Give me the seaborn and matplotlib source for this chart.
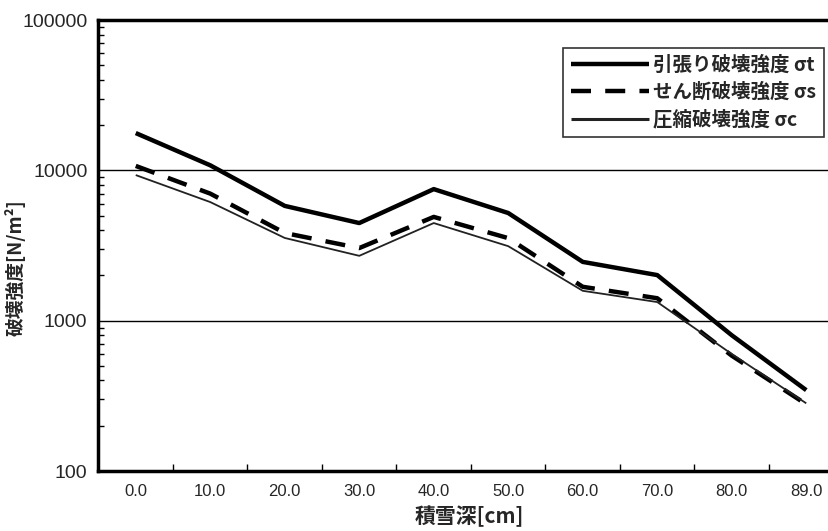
import matplotlib
matplotlib.use("Agg")
import matplotlib.pyplot as plt
import seaborn as sns
import pandas as pd
import numpy as np
from matplotlib.ticker import LogLocator, NullFormatter, FixedLocator

depth_labels = ["0.0", "10.0", "20.0", "30.0", "40.0", "50.0", "60.0", "70.0", "80.0", "89.0"]
tension = [17700, 10800, 5800, 4460, 7500, 5200, 2460, 2010, 800, 345]
shear = [10700, 7000, 3830, 3040, 4900, 3540, 1680, 1410, 585, 278]
compress = [9300, 6150, 3550, 2700, 4460, 3130, 1580, 1330, 600, 282]
series_names = ["引張り破壊強度 σt", "せん断破壊強度 σs", "圧縮破壊強度 σc"]

sns.set_theme(style="white")
plt.rcParams['font.family'] = ['Noto Sans CJK JP', 'DejaVu Sans']

df = pd.DataFrame({
    "depth": depth_labels * 3,
    "x": list(range(len(depth_labels))) * 3,
    "value": tension + shear + compress,
    "series": [series_names[0]] * 10 + [series_names[1]] * 10 + [series_names[2]] * 10,
})

fig = plt.figure(figsize=(8.29, 5.31), dpi=100)
ax = fig.add_axes([98.5 / 829, 1 - 471 / 531, 745 / 829, 451 / 531])

styles = {
    series_names[0]: dict(lw=3.2, ls="-", color="black"),
    series_names[1]: dict(lw=3.2, ls=(0, (4.5, 3.2)), color="black"),
    series_names[2]: dict(lw=1.3, ls="-", color="#222222"),
}
for name in series_names:
    sub = df[df["series"] == name]
    st = styles[name]
    sns.lineplot(data=sub, x="x", y="value", ax=ax, color=st["color"],
                 linewidth=st["lw"], linestyle=st["ls"], label=name,
                 solid_capstyle="butt", dash_capstyle="butt")

ax.set_yscale("log")
ax.set_ylim(100, 100000)
ax.set_xlim(-0.5, 9.5)

ax.set_yticks([100, 1000, 10000, 100000])
ax.set_yticklabels(["100", "1000", "10000", "100000"], fontsize=14, family="Liberation Sans")
ax.yaxis.set_minor_locator(LogLocator(base=10, subs=np.arange(2, 10)))
ax.yaxis.set_minor_formatter(NullFormatter())
ax.tick_params(axis="y", which="major", direction="in", length=0, pad=8, left=True)
ax.tick_params(axis="y", which="minor", direction="in", length=4, width=1, left=True, color="black")

ax.set_xticks(range(len(depth_labels)))
ax.set_xticklabels(depth_labels, fontsize=12, family="Liberation Sans")
ax.xaxis.set_minor_locator(FixedLocator(np.arange(0.5, 9.5, 1)))
ax.tick_params(axis="x", which="major", length=0, pad=9)
ax.tick_params(axis="x", which="minor", direction="in", length=5, width=1, bottom=True, color="black")

for yv in [1000, 10000]:
    ax.axhline(yv, color="black", lw=1.0, zorder=0)

for side in ["left", "bottom", "top"]:
    ax.spines[side].set_color("black")
    ax.spines[side].set_linewidth(2.5)
ax.spines["right"].set_visible(False)

ax.set_xlabel("積雪深[cm]", fontsize=15, fontweight="bold")
ax.xaxis.set_label_coords((469 - 98.5) / 745, (471 - 506) / 451)
ax.set_ylabel("破壊強度[N/m²]", fontsize=13.5, fontweight="bold", va="center")
ax.yaxis.set_label_coords((15 - 98.5) / 745, (471 - 268) / 451)

leg = ax.legend(loc="upper left", bbox_to_anchor=((563 - 98.5) / 745, 1 - (48 - 20) / 451),
                frameon=True, fancybox=False, edgecolor="black",
                handlelength=4.0, handletextpad=0.25, borderpad=0.4, labelspacing=0.4,
                borderaxespad=0,
                prop={"weight": "bold", "size": 14})
leg.get_frame().set_linewidth(1.2)
lines = leg.get_lines()
lines[2].set_linewidth(2.2)

fig.savefig("out.png", dpi=100)
